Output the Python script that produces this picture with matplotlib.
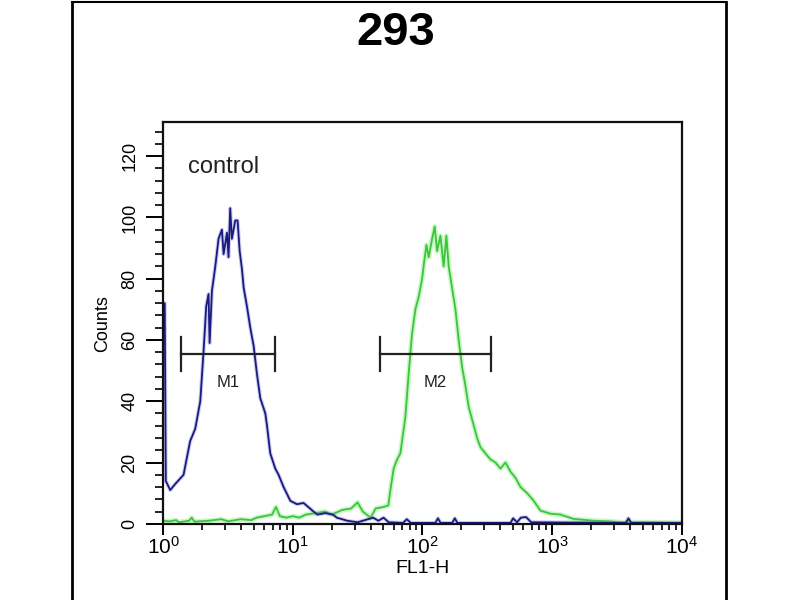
import numpy as np
import matplotlib
matplotlib.use("Agg")
import matplotlib.pyplot as plt
from matplotlib.ticker import MultipleLocator, FixedLocator, FixedFormatter
from matplotlib.lines import Line2D

plt.rcParams['font.family'] = ['Liberation Sans', 'DejaVu Sans']
plt.rcParams['mathtext.default'] = 'regular'

title = "293"
sample_label = "control"

# control histogram (blue), x in decades (log10 of FL1-H)
blue_dec = [0.0, 0.012, 0.02, 0.054, 0.093, 0.157, 0.208, 0.247, 0.286, 0.311,
            0.332, 0.350, 0.358, 0.376, 0.402, 0.427, 0.453, 0.466, 0.492, 0.504,
            0.517, 0.530, 0.556, 0.574, 0.590, 0.608, 0.621, 0.646, 0.672, 0.698,
            0.723, 0.749, 0.788, 0.801, 0.826, 0.865, 0.890, 0.929, 0.981, 1.032,
            1.083, 1.160, 1.19, 1.25, 1.31, 1.34, 1.42, 1.50, 1.58, 1.62,
            1.66, 1.70, 1.74, 1.85, 1.88, 1.91, 2.10, 2.12, 2.14, 2.23,
            2.25, 2.27, 2.68, 2.70, 2.73, 2.76, 2.80, 2.84, 3.57, 3.59,
            3.61, 4.0]
blue_cnt = [72, 72, 14, 11, 13, 16, 27, 31, 40, 56,
            71, 75, 59, 76, 84, 93, 96, 88, 95, 87,
            103, 93, 99, 99, 89, 83, 77, 71, 64, 58,
            49, 41, 36, 32, 23, 18, 16, 12, 7.5, 6.4,
            6.8, 4, 3, 3.5, 3, 2, 1, 0.5, 1.5, 2,
            1, 2, 0.5, 0.3, 1.5, 0.3, 0.3, 1.8, 0.3, 0.3,
            1.8, 0.3, 0.3, 1.8, 0.5, 2, 2.2, 0.5, 0.3, 1.8,
            0.3, 0.3]

# stained histogram (green)
green_dec = [0.0, 0.05, 0.10, 0.12, 0.20, 0.22, 0.24, 0.35, 0.45, 0.50,
             0.60, 0.68, 0.72, 0.78, 0.84, 0.87, 0.90, 0.95, 1.0, 1.05,
             1.10, 1.18, 1.25, 1.30, 1.38, 1.45, 1.50, 1.54, 1.60, 1.64,
             1.70, 1.737, 1.753, 1.778, 1.805, 1.830, 1.869, 1.894, 1.920, 1.946,
             1.971, 1.998, 2.015, 2.031, 2.049, 2.075, 2.095, 2.113, 2.139, 2.164,
             2.185, 2.203, 2.229, 2.255, 2.280, 2.307, 2.332, 2.358, 2.384, 2.422,
             2.448, 2.486, 2.525, 2.564, 2.602, 2.641, 2.680, 2.718, 2.757, 2.808,
             2.859, 2.911, 2.988, 3.066, 3.166, 3.320, 3.45, 3.529, 3.761, 4.0]
green_cnt = [1, 0.8, 1.2, 0.5, 1, 2, 0.7, 1, 1.5, 0.8,
             1.5, 1.2, 2, 2.5, 3, 5.5, 2.5, 2, 2.5, 2,
             3, 3.5, 4, 3, 4.5, 5, 7, 4, 2, 5,
             5.5, 6, 11, 18, 21, 23, 35, 49, 62, 70,
             74, 80, 86, 91, 87, 93, 97, 89, 94, 84,
             94, 84, 77, 70, 60, 51, 45, 38, 34, 28,
             25, 23, 21, 20, 18, 20, 17, 15, 12, 10,
             7.5, 4.3, 3.3, 3, 1.6, 1, 0.8, 0.5, 0.5, 0.3]

# marker gates
gate_names = ["M1", "M2"]
gate_lo = [10**0.137, 10**1.670]
gate_hi = [10**0.865, 10**2.530]
gate_y = [55.5, 55.5]

fig = plt.figure(figsize=(8, 6), dpi=100)
ax = fig.add_axes([0.204, 0.127, 0.648, 0.669])

bx = np.power(10.0, blue_dec)
gx = np.power(10.0, green_dec)

ax.plot(gx, green_cnt, color='#a8f2a2', lw=3.6, alpha=0.6, solid_joinstyle='round')
ax.plot(gx, green_cnt, color='#3cc43c', lw=1.3)
ax.plot(bx, blue_cnt, color='#8c8fd8', lw=2.8, alpha=0.45, solid_joinstyle='round')
ax.plot(bx, blue_cnt, color='#1a1a80', lw=1.3)

for name, lo, hi, yv in zip(gate_names, gate_lo, gate_hi, gate_y):
    ax.plot([lo, hi], [yv, yv], color='#222222', lw=1.6)
    ax.plot([lo, lo], [yv - 5.5, yv + 5.5], color='#222222', lw=1.6)
    ax.plot([hi, hi], [yv - 5.5, yv + 5.5], color='#222222', lw=1.6)
    mid = np.sqrt(lo * hi)
    ax.text(mid, yv - 9.5, name, ha='center', va='center', fontsize=12, color='#222222')

ax.set_xscale('log')
ax.set_xlim(1, 1e4)
ax.set_ylim(0, 131)

ax.set_xticks([1, 10, 100, 1000, 10000])
ax.set_xticklabels([r'$10^{0}$', r'$10^{1}$', r'$10^{2}$', r'$10^{3}$', r'$10^{4}$'])
ax.xaxis.set_minor_locator(FixedLocator([m * 10**d for d in range(4) for m in range(2, 10)]))
ax.xaxis.set_minor_formatter(FixedFormatter([]))

ax.set_yticks(np.arange(0, 121, 20))
ax.yaxis.set_minor_locator(MultipleLocator(4))
for lab in ax.get_yticklabels():
    lab.set_rotation(90)
    lab.set_va('center')

ax.tick_params(axis='x', which='major', direction='out', length=8, width=1.4, labelsize=15, pad=1)
ax.tick_params(axis='x', which='minor', direction='out', length=4, width=1.2)
ax.tick_params(axis='y', which='major', direction='out', length=12, width=1.4, labelsize=13, pad=6)
ax.tick_params(axis='y', which='minor', direction='out', length=6, width=1.2)

for sp in ax.spines.values():
    sp.set_linewidth(1.6)
    sp.set_color('#111111')

ax.set_xlabel("FL1-H", fontsize=14, labelpad=1)
ax.set_ylabel("Counts", fontsize=13, labelpad=7)

ax.text(0.047, 0.89, sample_label, transform=ax.transAxes, fontsize=17, va='center', color='#222222')

fig.text(396 / 800, 1 - 33 / 600, title, ha='center', va='center', fontsize=34, fontweight='bold')

# outer panel frame
fig.add_artist(Line2D([72 / 800, 72 / 800], [0, 1 - 1.5 / 600], color='black', lw=2))
fig.add_artist(Line2D([726 / 800, 726 / 800], [0, 1 - 1.5 / 600], color='black', lw=2))
fig.add_artist(Line2D([72 / 800, 726 / 800], [1 - 1.5 / 600, 1 - 1.5 / 600], color='black', lw=1.5))

fig.savefig("out.png", dpi=100)
